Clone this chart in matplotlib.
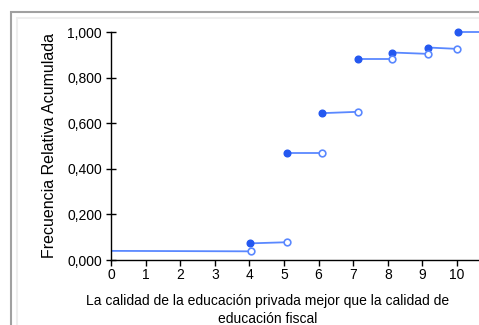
import matplotlib
matplotlib.use("Agg")
import matplotlib.pyplot as plt
from matplotlib.patches import Rectangle

# step data (start of each step and where it ends)
x_start = [0.0, 4.02, 5.10, 6.10, 7.13, 8.13, 9.17, 10.02]
x_end = [4.05, 5.10, 6.10, 7.13, 8.13, 9.17, 9.99, 10.70]
y_start = [0.040, 0.073, 0.468, 0.644, 0.881, 0.910, 0.932, 1.000]
y_end = [0.038, 0.078, 0.468, 0.650, 0.881, 0.904, 0.926, 1.000]

x_ticks = [0, 1, 2, 3, 4, 5, 6, 7, 8, 9, 10]
y_ticks = [0.0, 0.2, 0.4, 0.6, 0.8, 1.0]
y_ticklabels = ["0,000", "0,200", "0,400", "0,600", "0,800", "1,000"]

plt.rcParams['font.family'] = ['Liberation Sans', 'DejaVu Sans']

W, H = 479, 325
fig = plt.figure(figsize=(W / 100, H / 100), dpi=100)

# outer frame
fig.patches.append(Rectangle((11 / W, -0.1), 1.2, 1 - 12 / H + 0.1, transform=fig.transFigure,
                             fill=False, edgecolor="#a0a0a0", linewidth=1.5))
fig.patches.append(Rectangle((17 / W, -0.1), 1.2, 1 - 18 / H + 0.1, transform=fig.transFigure,
                             fill=False, edgecolor="#eeeeee", linewidth=1.5))

left, right = 111 / W, 1.0
bottom, top = 1 - 260 / H, 1 - 32 / H
ax = fig.add_axes([left, bottom, right - left, top - bottom])
ax.set_xlim(0, (W - 111) / 34.6)
ax.set_ylim(0, 1.0)

line_col = "#5a88ff"
dot_col = "#2458f0"
for i in range(len(x_start)):
    ax.plot([x_start[i], x_end[i]], [y_start[i], y_end[i]], color=line_col, lw=1.3,
            solid_capstyle="butt", zorder=2, clip_on=False)
ax.plot(x_start[1:], y_start[1:], "o", ms=4.8, color=dot_col, mec=dot_col, zorder=3, clip_on=False)
ax.plot(x_end[:-1], y_end[:-1], "o", ms=4.8, mfc="white", mec=line_col, mew=1.2, zorder=3, clip_on=False)

for s in ["top", "right"]:
    ax.spines[s].set_visible(False)
ax.spines["left"].set_linewidth(1.0)
ax.spines["bottom"].set_linewidth(1.0)

ax.set_xticks(x_ticks)
ax.set_yticks(y_ticks)
ax.set_yticklabels(y_ticklabels)
ax.tick_params(axis="x", direction="out", length=4, width=1, labelsize=10, pad=2)
ax.tick_params(axis="y", direction="inout", length=7, width=1, labelsize=10, pad=3)

ax.set_ylabel("Frecuencia Relativa Acumulada", fontsize=11.5, labelpad=7)
ax.set_xlabel("La calidad de la educación privada mejor que la calidad de\neducación fiscal",
              fontsize=10, linespacing=1.35)
ax.xaxis.label.set_verticalalignment("top")
ax.xaxis.set_label_coords((268 - 111) / (W - 111), -(294 - 260) / 228)

fig.savefig("out.png", dpi=100)
